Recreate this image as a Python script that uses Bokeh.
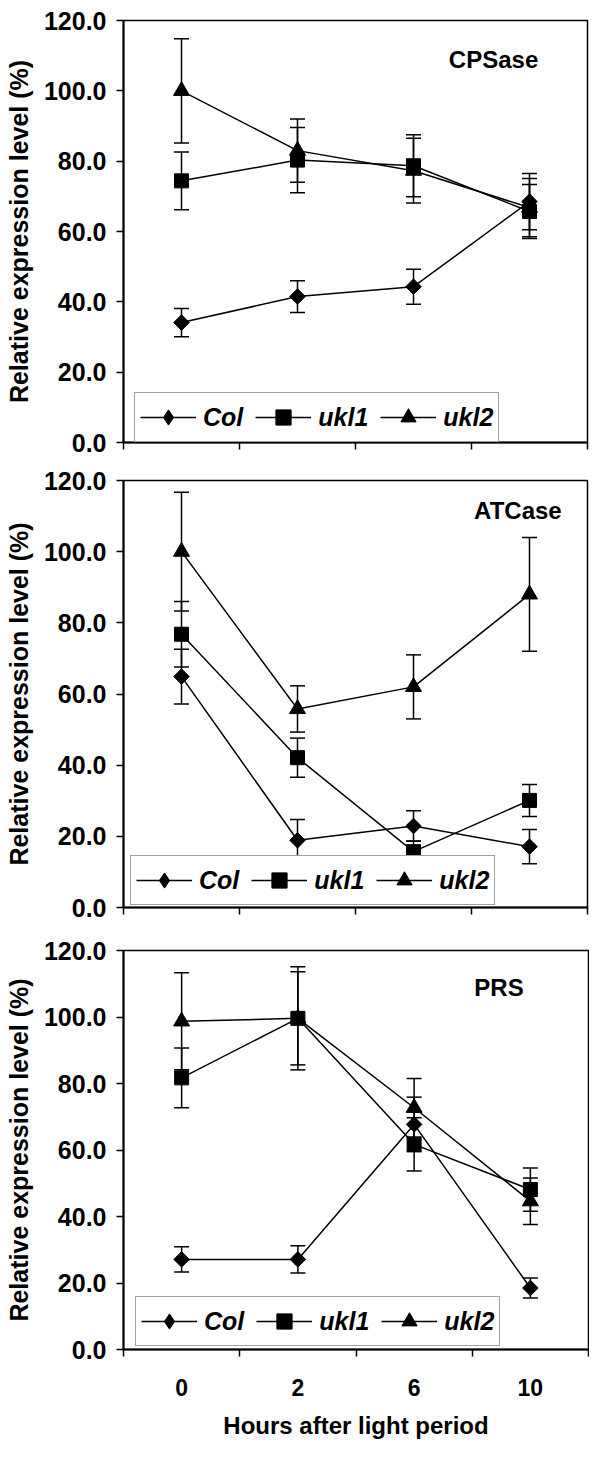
import numpy as np
from bokeh.plotting import figure
from bokeh.models import (Range1d, FixedTicker, PrintfTickFormatter, Whisker, TeeHead,
                          ColumnDataSource, Legend, LegendItem, Label)
from bokeh.layouts import column
from bokeh.embed import file_html
from bokeh.resources import INLINE

# ---------------- data ----------------
hours = ["0", "2", "6", "10"]
genotypes = ["Col", "ukl1", "ukl2"]
y_ticks = [0, 20, 40, 60, 80, 100, 120]

cps_col = [34.1, 41.5, 44.3, 68.5]
cps_col_err = [4.0, 4.5, 5.0, 8.0]
cps_ukl1 = [74.4, 80.3, 78.7, 65.7]
cps_ukl1_err = [8.2, 9.3, 8.8, 7.7]
cps_ukl2 = [100.0, 83.0, 77.3, 66.8]
cps_ukl2_err = [14.8, 9.0, 9.2, 8.3]

atc_col = [64.9, 18.9, 22.9, 17.1]
atc_col_err = [7.7, 5.8, 4.3, 4.8]
atc_ukl1 = [76.8, 42.1, 15.7, 30.1]
atc_ukl1_err = [9.2, 5.5, 3.0, 4.5]
atc_ukl2 = [100.0, 55.8, 62.0, 88.0]
atc_ukl2_err = [16.7, 6.5, 9.0, 16.0]

prs_col = [27.1, 27.1, 67.7, 18.5]
prs_col_err = [3.8, 4.1, 8.2, 3.0]
prs_ukl1 = [81.7, 99.6, 61.7, 48.1]
prs_ukl1_err = [9.0, 15.5, 8.0, 6.5]
prs_ukl2 = [98.7, 99.6, 72.7, 44.6]
prs_ukl2_err = [14.6, 14.0, 8.8, 7.0]

FONT = "Liberation Sans"
xs = [i + 0.5 for i in range(len(hours))]
bounds = list(range(len(hours) + 1))

plot_markers = {"Col": dict(marker="square", angle=np.pi / 4, size=11),
                "ukl1": dict(marker="square", angle=0.0, size=14),
                "ukl2": dict(marker="triangle", angle=0.0, size=16)}
legend_markers = {"Col": "diamond", "ukl1": "square", "ukl2": "triangle"}


def make_panel(title, title_xy, series, frame_w, frame_h, b_left, b_right, b_top,
               b_bottom, legend_loc, last=False):
    p = figure(frame_width=frame_w, frame_height=frame_h,
               x_range=Range1d(0, len(hours)), y_range=Range1d(0, 120),
               output_backend="svg", toolbar_location=None,
               min_border_left=b_left, min_border_right=b_right,
               min_border_top=b_top, min_border_bottom=b_bottom)
    p.background_fill_color = "white"
    p.border_fill_color = "white"
    p.outline_line_color = "black"
    p.outline_line_width = 1.5
    p.xgrid.visible = False
    p.ygrid.visible = False

    # y axis
    ya = p.yaxis[0]
    ya.ticker = FixedTicker(ticks=y_ticks, minor_ticks=[])
    ya.formatter = PrintfTickFormatter(format="%.1f")
    ya.major_tick_out = 7
    ya.major_tick_in = 0
    ya.major_tick_line_width = 1.5
    ya.axis_line_width = 2
    ya.major_label_text_font = FONT
    ya.major_label_text_font_style = "bold"
    ya.major_label_text_font_size = "25px"
    ya.major_label_text_color = "black"
    ya.major_label_standoff = 10
    ya.axis_label = "Relative expression level (%)"
    ya.axis_label_text_font = FONT
    ya.axis_label_text_font_style = "bold"
    ya.axis_label_text_font_size = "25px"
    ya.axis_label_text_color = "black"
    ya.axis_label_standoff = 8

    # x axis: boundary ticks as minor ticks, labels at category centres
    xa = p.xaxis[0]
    xa.ticker = FixedTicker(ticks=xs, minor_ticks=bounds)
    xa.major_tick_out = 0
    xa.major_tick_in = 0
    xa.minor_tick_out = 7
    xa.minor_tick_in = 0
    xa.minor_tick_line_width = 1.5
    xa.axis_line_width = 2
    xa.major_label_text_font = FONT
    xa.major_label_text_font_style = "bold"
    xa.major_label_text_color = "black"
    if last:
        xa.major_label_overrides = {x: h for x, h in zip(xs, hours)}
        xa.major_label_text_font_size = "23px"
        xa.major_label_standoff = 22
        xa.axis_label = "Hours after light period"
        xa.axis_label_text_font = FONT
        xa.axis_label_text_font_style = "bold"
        xa.axis_label_text_font_size = "24px"
        xa.axis_label_text_color = "black"
        xa.axis_label_standoff = 13
    else:
        xa.major_label_overrides = {x: "" for x in xs}
        xa.major_label_standoff = 0
        xa.major_label_text_font_size = "10px"

    items = []
    for name, (vals, errs) in zip(genotypes, series):
        src = ColumnDataSource(dict(x=xs, y=vals,
                                    upper=[v + e for v, e in zip(vals, errs)],
                                    lower=[v - e for v, e in zip(vals, errs)]))
        w = Whisker(base="x", upper="upper", lower="lower", source=src,
                    line_color="black", line_width=1.5,
                    upper_head=TeeHead(size=15, line_color="black", line_width=1.5),
                    lower_head=TeeHead(size=15, line_color="black", line_width=1.5))
        p.add_layout(w)
        lr = p.line("x", "y", source=src, line_color="black", line_width=1.5)
        # marker used by the legend (fully covered in the plot for Col)
        lm = p.scatter("x", "y", source=src, marker=legend_markers[name],
                       size=14 if name == "Col" else plot_markers[name]["size"],
                       fill_color="black", line_color="black")
        if name == "Col":
            m = plot_markers[name]
            p.scatter("x", "y", source=src, marker=m["marker"], angle=m["angle"],
                      size=m["size"], fill_color="black", line_color="black")
        items.append(LegendItem(label=name, renderers=[lr, lm]))

    leg = Legend(items=items, orientation="horizontal", location=legend_loc,
                 border_line_color="#444444", border_line_width=1,
                 background_fill_color="white", background_fill_alpha=1.0,
                 glyph_width=56, glyph_height=38, label_height=38,
                 label_standoff=7, spacing=12, padding=5, margin=0,
                 label_text_font=FONT, label_text_font_style="bold italic",
                 label_text_font_size="25px", label_text_color="black")
    p.add_layout(leg)

    p.add_layout(Label(x=title_xy[0], y=title_xy[1], text=title, text_font=FONT,
                       text_font_style="bold", text_font_size="24px", text_color="black",
                       text_align="center", text_baseline="middle"))
    return p


p1 = make_panel("CPSase", (3.19, 108.9),
                [(cps_col, cps_col_err), (cps_ukl1, cps_ukl1_err), (cps_ukl2, cps_ukl2_err)],
                464, 422, 122, 3, 20, 17, (11, 0))
p2 = make_panel("ATCase", (3.40, 111.6),
                [(atc_col, atc_col_err), (atc_ukl1, atc_ukl1_err), (atc_ukl2, atc_ukl2_err)],
                464, 427, 122, 3, 21, 16, (7, 2))
p3 = make_panel("PRS", (3.23, 108.9),
                [(prs_col, prs_col_err), (prs_ukl1, prs_ukl1_err), (prs_ukl2, prs_ukl2_err)],
                465, 399, 123, 1, 27, 100, (12, 3), last=True)

layout = column(p1, p2, p3, spacing=0)
open("out.html", "w").write(file_html(layout, INLINE))
